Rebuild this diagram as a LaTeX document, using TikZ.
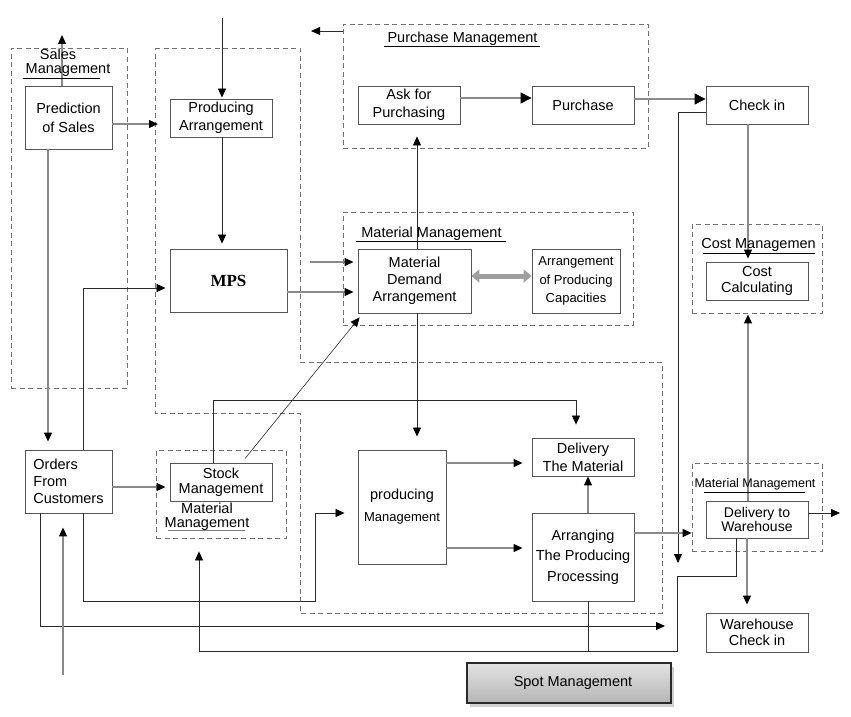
\documentclass[tikz,border=0pt]{standalone}
\usepackage{fontspec}
\setmainfont{Liberation Sans}
\setsansfont{Liberation Sans}
\newfontfamily\mpsfont{Liberation Serif}
\usetikzlibrary{arrows.meta,calc,shadows}
\definecolor{boxc}{HTML}{555555}
\definecolor{linec}{HTML}{8A8A8A}
\definecolor{darkc}{HTML}{2A2A2A}
\definecolor{dashc}{HTML}{707070}
\begin{document}
\begin{tikzpicture}[x=1pt,y=-1pt,
  box/.style={draw=boxc, line width=0.9pt, fill=white, inner sep=1pt, align=center,
    font=\fontsize{14.5}{17.5}\selectfont},
  dbox/.style={draw=dashc, line width=0.8pt, dash pattern=on 5pt off 3.5pt, inner sep=0pt},
  lbl/.style={inner sep=0pt, anchor=base, font=\fontsize{14.5}{17}\selectfont},
  tip/.style={-{Triangle[length=9pt,width=8pt,color=black]}},
  bigtip/.style={-{Triangle[length=11pt,width=11pt,color=black]}},
  gline/.style={draw=linec, line width=1.1pt},
  kline/.style={draw=darkc, line width=0.8pt},
  uline/.style={draw=black, line width=0.8pt},
]
\useasboundingbox[fill=white] (0,0) rectangle (851,717);

% dashed group outlines
\node[dbox, minimum width=116pt, minimum height=340pt] (smg) at (69,218) {};
\draw[dbox] (155,48) -- (300,48) -- (300,362) -- (662,362) -- (662,613) -- (300,613) -- (300,413) -- (155,413) -- cycle;
\node[dbox, minimum width=305pt, minimum height=124pt] (pmg) at (495.5,86) {};
\node[dbox, minimum width=290pt, minimum height=113pt] (mmc) at (488,268.5) {};
\node[dbox, minimum width=130pt, minimum height=89pt] (cmg) at (757,268.5) {};
\node[dbox, minimum width=130pt, minimum height=88pt] (mmr) at (757,507) {};
\node[dbox, minimum width=130pt, minimum height=88pt] (mml) at (221,494) {};

% boxes
\node[box, minimum width=87pt, minimum height=63pt, font=\fontsize{14.5}{19}\selectfont] (pred) at (68.5,117.5) {Prediction\\of Sales};
\node[box, minimum width=102pt, minimum height=38pt] (parr) at (221,118) {Producing\\Arrangement};
\node[box, minimum width=117pt, minimum height=63pt, font=\mpsfont\bfseries\fontsize{17}{20}\selectfont] (mps) at (228.5,280.5) {MPS};
\node[box, minimum width=102pt, minimum height=38pt] (afp) at (409,105) {Ask for\\Purchasing};
\node[box, minimum width=102pt, minimum height=38pt] (purch) at (583,105) {Purchase};
\node[box, minimum width=102pt, minimum height=38pt] (checkin) at (757,105) {Check in};
\node[box, minimum width=113pt, minimum height=64pt, font=\fontsize{14.5}{17}\selectfont] (mda) at (414.5,281) {Material\\Demand\\Arrangement};
\node[box, minimum width=88pt, minimum height=64pt, font=\fontsize{13}{18.5}\selectfont] (apc) at (576,281) {Arrangement\\of Producing\\Capacities};
\node[box, minimum width=102pt, minimum height=38pt, font=\fontsize{14.5}{16}\selectfont] (cost) at (757,281) {Cost\\Calculating};
\node[box, minimum width=87pt, minimum height=63pt, align=left, font=\fontsize{14.5}{17}\selectfont] (orders) at (68.5,481.5) {Orders\\From\\Customers};
\node[box, minimum width=102pt, minimum height=38pt, font=\fontsize{14.5}{15}\selectfont] (stock) at (221,482) {Stock\\Management};
\node[box, minimum width=88pt, minimum height=114pt, font=\fontsize{14.5}{22}\selectfont] (pm) at (402,507) {producing\\{\fontsize{13}{22}\selectfont Management}};
\node[box, minimum width=102pt, minimum height=38pt, font=\fontsize{14.5}{18}\selectfont] (dtm) at (583,457) {Delivery\\The Material};
\node[box, minimum width=102pt, minimum height=88pt, font=\fontsize{14.5}{20.5}\selectfont] (atp) at (583,557) {Arranging\\The Producing\\Processing};
\node[box, minimum width=102pt, minimum height=37pt, font=\fontsize{14}{14.5}\selectfont] (dtw) at (757,519.5) {Delivery to\\Warehouse};
\node[box, minimum width=102pt, minimum height=39pt, font=\fontsize{14.5}{16}\selectfont] (whc) at (757,632.5) {Warehouse\\Check in};
\node[draw=darkc, line width=1.2pt, minimum width=204pt, minimum height=40pt,
  top color=gray!22, middle color=gray!6, bottom color=gray!58,
  drop shadow={shadow xshift=3pt, shadow yshift=-4pt, opacity=0.35},
  font=\fontsize{14.5}{17}\selectfont] (spot) at (569,683) {\hspace*{8pt}Spot Management};

% connectors
\draw[gline, tip] (pred.north -| 62,0) -- (62,35);
\draw[gline, tip] (pred.east |- 0,124) -- (158,124);
\draw[gline, tip, shorten >=8pt] (pred.south -| 48,0) -- (orders.north -| 48,0);
\coordinate (topin) at (222,18);
\draw[kline, tip, shorten >=1pt] (topin) -- (parr.north -| topin);
\draw[kline, tip, shorten >=5pt] (parr.south -| topin) -- (mps.north -| topin);
\draw[kline, tip, shorten >=4pt] (orders.north -| 83,0) -- (83,288) -- (mps.west |- 0,288);
\coordinate (mdain) at (310,262);
\draw[gline, tip, shorten >=4pt] (mdain) -- (mda.west |- mdain);
\draw[gline, tip, shorten >=4pt] (mps.east |- 0,292) -- (mda.west |- 0,292);
\draw[kline, tip, shorten >=12pt] (mda.north -| 417,0) -- (afp.south -| 417,0);
\draw[gline, line width=1.3pt, bigtip] (afp.east |- 0,98) -- (purch.west |- 0,98);
\draw[gline, line width=1.3pt, bigtip] (purch.east |- 0,99) -- (checkin.west |- 0,99);
\draw[kline, tip] (checkin.west |- 0,112) -- (678,112) -- (678,563);
\draw[gline, tip, shorten >=3pt] (checkin.south -| 748,0) -- (cost.north -| 748,0);
\draw[gline, tip, shorten >=14pt] (dtw.north -| 748,0) -- (cost.south -| 748,0);
\draw[gline, tip, shorten >=8pt] (dtw.south -| 747,0) -- (whc.north -| 747,0);
\draw[kline, tip] (dtw.east |- 0,513) -- (840,513);
\draw[gline, tip] (atp.east |- 0,533) -- (mmr.west |- 0,533);
\draw[kline, tip, shorten >=13pt] (dtw.south -| 736,0) -- (736,576) -- (677,576) -- (677,651) -- (199,651) -- (mml.south -| 199,0);
\draw[kline] (atp.south -| 588,0) -- (588,651);
\draw[gline, tip] (atp.north -| 588,0) -- (dtm.south -| 588,0);
\draw[gline, tip, shorten >=9pt] (pm.east |- 0,463) -- (dtm.west |- 0,463);
\draw[gline, tip, shorten >=9pt] (pm.east |- 0,548) -- (atp.west |- 0,548);
\draw[kline, tip, shorten >=13pt] (mda.south -| 417,0) -- (pm.north -| 417,0);
\draw[kline, tip, shorten >=13pt] (stock.north -| 213,0) -- (213,400) -- (576,400) -- (dtm.north -| 576,0);
\draw[kline, line width=0.6pt, tip] ($(stock.north -| 245,0)+(0,-4)$) -- ($(mda.south west)+(2,4)$);
\draw[gline, tip, shorten >=4pt] (orders.east |- 0,487) -- (stock.west |- 0,487);
\draw[kline, tip, shorten >=13pt] (orders.south -| 83,0) -- (83,601) -- (315,601) -- (315,513) -- (pm.west |- 0,513);
\draw[kline, tip] (orders.south -| 40,0) -- (40,626) -- (665,626);
\coordinate (custin) at (63,675);
\draw[gline, tip, shorten >=14pt] (custin) -- (orders.south -| custin);
\draw[kline, tip] (pmg.west |- 0,31) -- (311,31);
\draw[draw=gray!75, line width=5pt, {Triangle[length=8pt,width=13pt]}-{Triangle[length=8pt,width=13pt]}] (mda.east |- 0,276) -- (apc.west |- 0,276);

% group labels
\node[lbl] (ls1) at (58,59.5) {Sales};
\node[lbl] (ls2) at (68,74) {Management};
\draw[uline] (23,78.5) -- (100,78.5);
\node[lbl] (lpm) at (462.5,43) {Purchase Management};
\draw[uline] (384,46) -- (540,46);
\node[lbl] (lmc) at (431.5,237.5) {Material Management};
\draw[uline] (356,241.5) -- (506,241.5);
\node[lbl] (lcm) at (758.5,248) {Cost Managemen};
\draw[uline] (703,253) -- (815,253);
\node[lbl, font=\fontsize{12.5}{14}\selectfont] (lmr) at (755,487) {Material Management};
\draw[uline] (704,492) -- (805,492);
\node[lbl] (lml1) at (207,513) {Material};
\node[lbl] (lml2) at (207,527) {Management};
\draw[draw=gray, line width=0.9pt] (168,530) -- (245,530);
\end{tikzpicture}
\end{document}
